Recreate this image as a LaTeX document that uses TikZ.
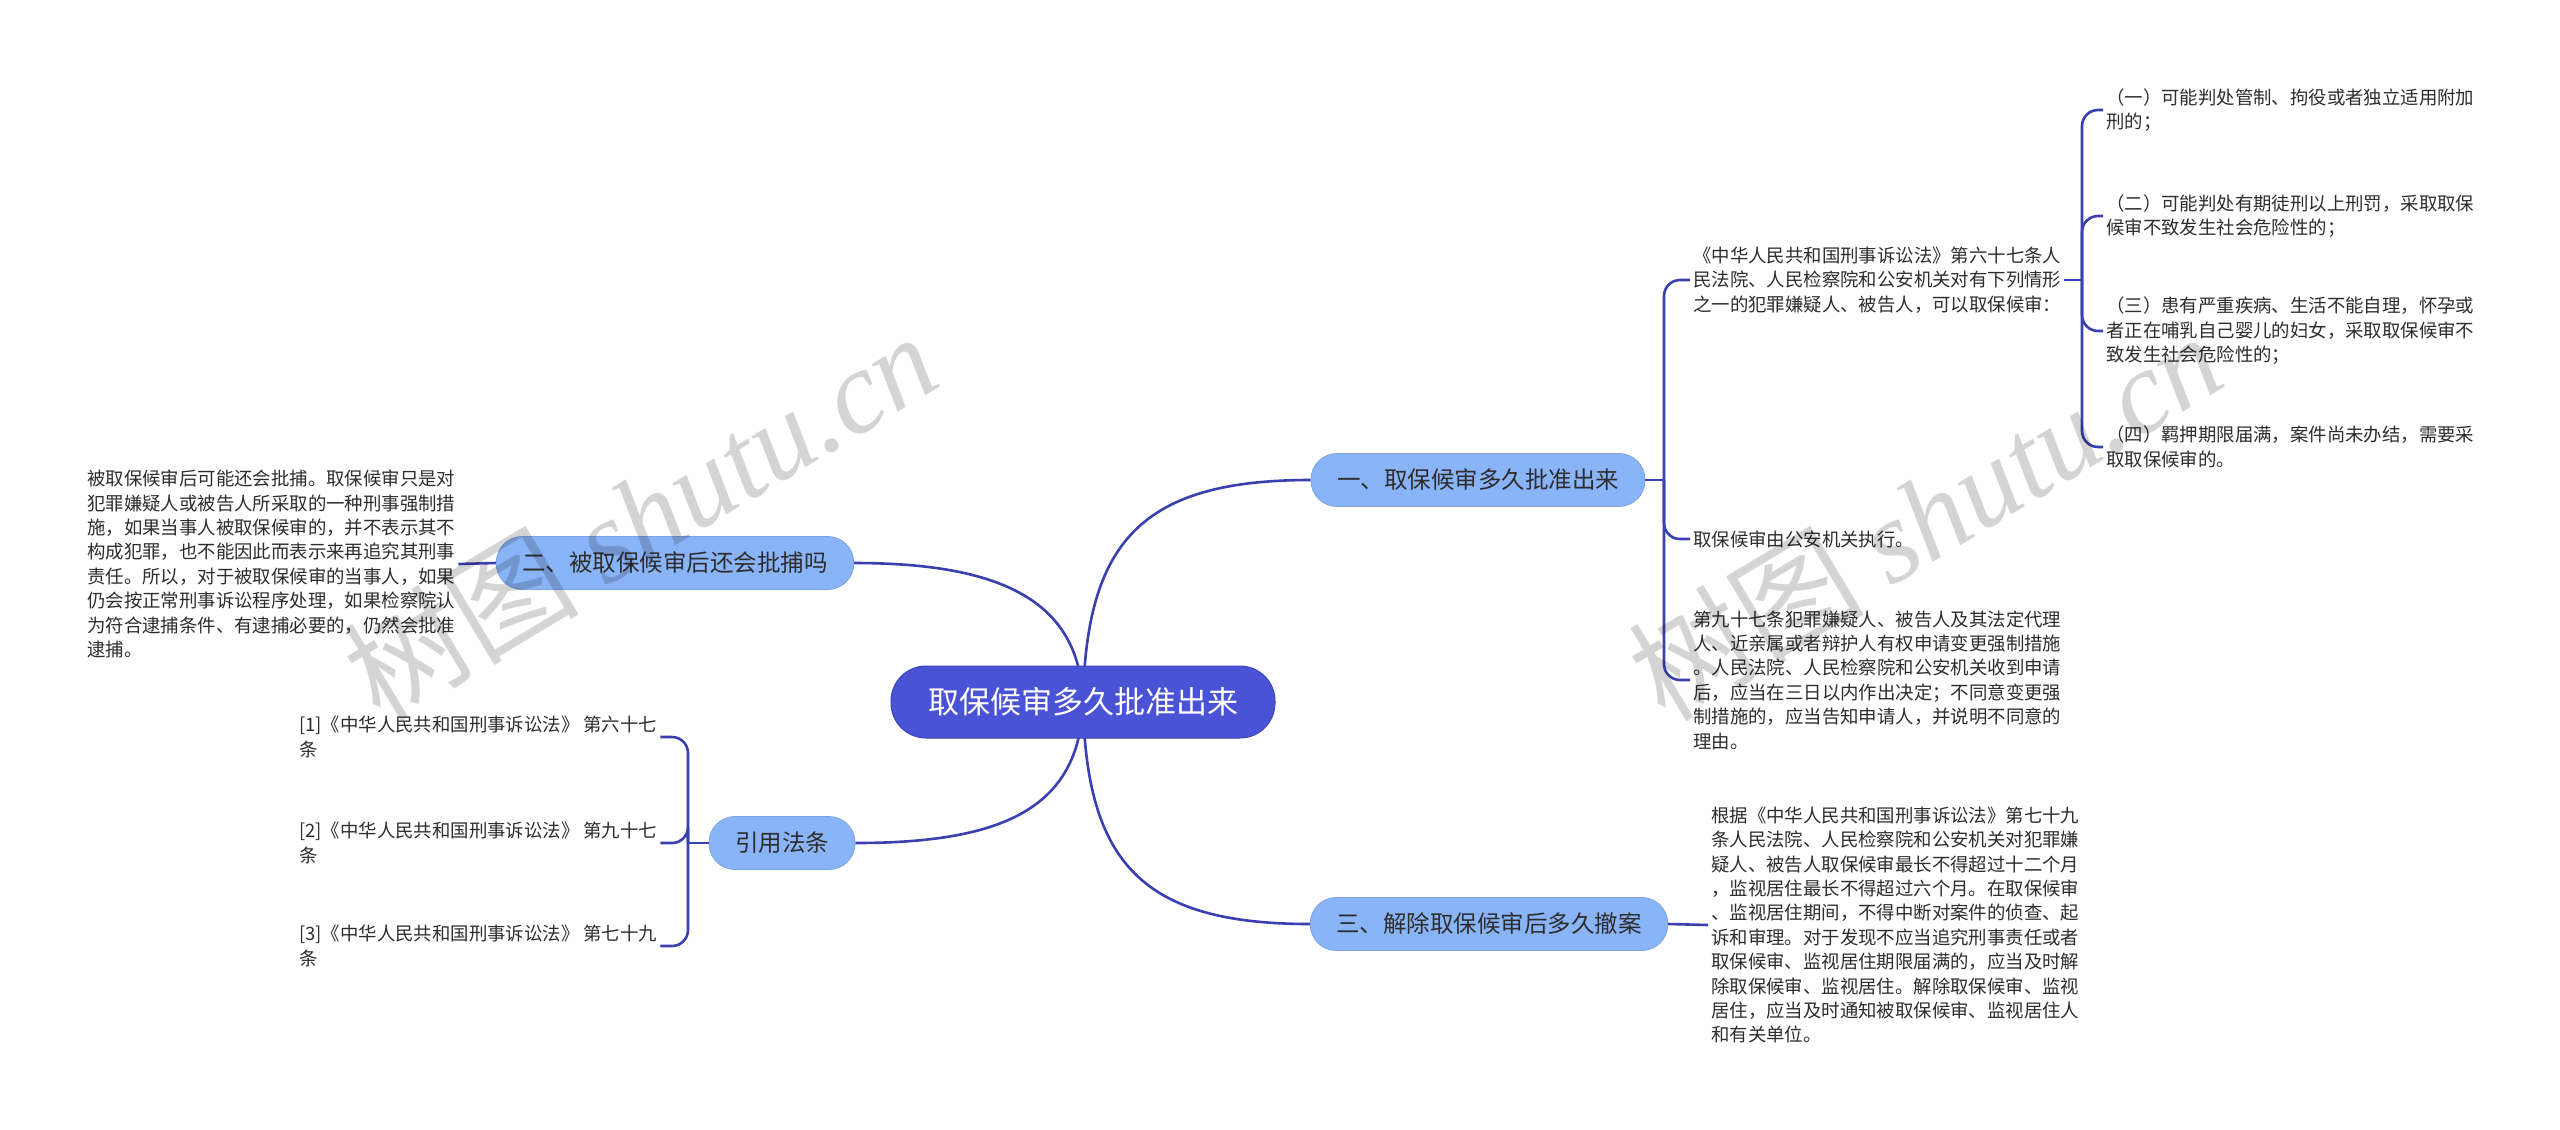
\documentclass[tikz,border=0pt]{standalone}
\usepackage{fontspec}
\setmainfont{Noto Sans CJK SC}
\newfontfamily\marklatin{Liberation Serif}
\usepackage{tikz}
\usetikzlibrary{backgrounds}
\definecolor{rootblue}{RGB}{74, 82, 214}
\definecolor{topicblue}{RGB}{138, 180, 248}
\definecolor{linkblue}{RGB}{58, 64, 176}
\definecolor{leafgray}{RGB}{45, 45, 45}

\begin{document}
\begin{tikzpicture}[x=1pt, y=-1pt,
    rootnode/.style={fill=rootblue, draw=rootblue!85!black, line width=1pt, rounded corners=35pt,
                     minimum height=72pt, inner xsep=37pt, text=white, font=\fontsize{31}{31}\selectfont},
    topic/.style={fill=topicblue, draw=topicblue!90!black, line width=0.8pt, rounded corners=26pt,
                  minimum height=53pt, inner xsep=26pt, text=leafgray, font=\fontsize{23.5}{23.5}\selectfont},
    leaf/.style={align=left, inner xsep=3pt, inner ysep=0pt, text=leafgray, font=\fontsize{18.4}{24.4}\selectfont},
    link/.style={draw=linkblue, line width=2.6pt},
    brace/.style={link, rounded corners=16pt},
    watermark/.style={text=black, text opacity=0.17, rotate=31, font=\fontsize{118}{118}\selectfont}]
            % Frame to fix the page size
            \useasboundingbox                                                 (0, 0) rectangle (2560, 1130);
            % Root and main topics
            \node[rootnode]                                                   (root) at (1083, 702) {取保候审多久批准出来};
            \node[topic]                                                      (b1)   at (1478, 480) {一、取保候审多久批准出来};
            \node[topic]                                                      (b2)   at (675, 563)  {二、被取保候审后还会批捕吗};
            \node[topic]                                                      (b3)   at (1489, 924) {三、解除取保候审后多久撤案};
            \node[topic]                                                      (b4)   at (782, 843)  {引用法条};
            % Topic one: leaves
            \node[leaf, anchor=west] (l1) at (1690, 280) {《中华人民共和国刑事诉讼法》第六十七条人\\民法院、人民检察院和公安机关对有下列情形\\之一的犯罪嫌疑人、被告人，可以取保候审：};
            \node[leaf, anchor=west] (l2) at (1690, 539) {取保候审由公安机关执行。};
            \node[leaf, anchor=west] (l3) at (1690, 680) {第九十七条犯罪嫌疑人、被告人及其法定代理\\人、近亲属或者辩护人有权申请变更强制措施\\。人民法院、人民检察院和公安机关收到申请\\后，应当在三日以内作出决定；不同意变更强\\制措施的，应当告知申请人，并说明不同意的\\理由。};
            \node[leaf, anchor=west] (s1) at (2103, 110) {（一）可能判处管制、拘役或者独立适用附加\\刑的；};
            \node[leaf, anchor=west] (s2) at (2103, 216) {（二）可能判处有期徒刑以上刑罚，采取取保\\候审不致发生社会危险性的；};
            \node[leaf, anchor=west] (s3) at (2103, 331) {（三）患有严重疾病、生活不能自理，怀孕或\\者正在哺乳自己婴儿的妇女，采取取保候审不\\致发生社会危险性的；};
            \node[leaf, anchor=west] (s4) at (2103, 447) {（四）羁押期限届满，案件尚未办结，需要采\\取取保候审的。};
            % Topic two: leaf
            \node[leaf, anchor=west] (t2) at (84, 564) {被取保候审后可能还会批捕。取保候审只是对\\犯罪嫌疑人或被告人所采取的一种刑事强制措\\施，如果当事人被取保候审的，并不表示其不\\构成犯罪，也不能因此而表示来再追究其刑事\\责任。所以，对于被取保候审的当事人，如果\\仍会按正常刑事诉讼程序处理，如果检察院认\\为符合逮捕条件、有逮捕必要的，仍然会批准\\逮捕。};
            % Topic three: leaf
            \node[leaf, anchor=west] (t3) at (1708, 925) {根据《中华人民共和国刑事诉讼法》第七十九\\条人民法院、人民检察院和公安机关对犯罪嫌\\疑人、被告人取保候审最长不得超过十二个月\\，监视居住最长不得超过六个月。在取保候审\\、监视居住期间，不得中断对案件的侦查、起\\诉和审理。对于发现不应当追究刑事责任或者\\取保候审、监视居住期限届满的，应当及时解\\除取保候审、监视居住。解除取保候审、监视\\居住，应当及时通知被取保候审、监视居住人\\和有关单位。};
            % Cited articles
            \node[leaf, anchor=west] (r1) at (296, 737) {[1]《中华人民共和国刑事诉讼法》 第六十七\\条};
            \node[leaf, anchor=west] (r2) at (296, 843) {[2]《中华人民共和国刑事诉讼法》 第九十七\\条};
            \node[leaf, anchor=west] (r3) at (296, 946) {[3]《中华人民共和国刑事诉讼法》 第七十九\\条};
            % Brace joints
            \coordinate (j1) at (1664, 480);
            \coordinate (j2) at (2082, 280);
            \coordinate (j4) at (688, 843);
            \begin{scope}[on background layer]
            \fill[white]                                                      (0, 0) rectangle (2560, 1130);
            % Root links
            \draw[link] (root.center) .. controls (1086, 540) and (1143, 480) .. (b1.west);
            \draw[link] (root.center) .. controls (1080, 600) and (1000, 563) .. (b2.east);
            \draw[link] (root.center) .. controls (1086, 864) and (1143, 924) .. (b3.west);
            \draw[link] (root.center) .. controls (1080, 810) and (1000, 843) .. (b4.east);
            \end{scope}
            % Topic links
            \draw[link]  (b1.east) -- (j1);
            \draw[brace] (j1) |- (l1.west);
            \draw[brace] (j1) |- (l2.west);
            \draw[brace] (j1) |- (l3.west);
            \draw[link]  (l1.east) -- (j2);
            \draw[brace] (j2) |- (s1.west);
            \draw[brace] (j2) |- (s2.west);
            \draw[brace] (j2) |- (s3.west);
            \draw[brace] (j2) |- (s4.west);
            \draw[link]  (b2.west) -- (t2.east);
            \draw[link]  (b3.east) -- (t3.west);
            \draw[link]  (b4.west) -- (j4);
            \draw[brace] (j4) |- (r1.east);
            \draw[brace] (j4) |- (r2.east);
            \draw[brace] (j4) |- (r3.east);
            % Watermarks
            \node[watermark] (wm1) at (640, 515)  {树图 {\marklatin\itshape shutu.cn}};
            \node[watermark] (wm2) at (1925, 515) {树图 {\marklatin\itshape shutu.cn}};
\end{tikzpicture}
\end{document}
